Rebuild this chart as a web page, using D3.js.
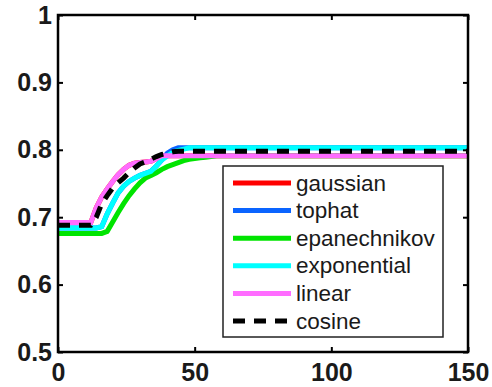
<!DOCTYPE html>
<html>
<head>
<meta charset="utf-8">
<script src="https://cdn.jsdelivr.net/npm/d3@7"></script>
<style>
  html, body { margin: 0; padding: 0; background: #fff; }
  svg { display: block; }
</style>
</head>
<body>
<svg id="chart" width="492" height="387"></svg>
<script>
// ---- data ----
const xs = [0, 12, 14, 16, 18, 20, 22, 24, 26, 28, 30, 32, 34, 36, 38, 40, 42, 44, 46, 48, 50, 52, 54, 56, 58, 150];

const gaussian     = [0.692,0.692,0.714,0.730,0.742,0.753,0.763,0.771,0.777,0.780,0.781,0.782,0.783,0.787,0.791,0.791,0.791,0.791,0.791,0.791,0.791,0.791,0.791,0.791,0.791,0.791];
const tophat       = [0.684,0.684,0.684,0.686,0.705,0.721,0.736,0.746,0.753,0.758,0.762,0.765,0.768,0.776,0.785,0.795,0.800,0.803,0.803,0.803,0.803,0.803,0.803,0.803,0.803,0.803];
const epanechnikov = [0.676,0.676,0.676,0.676,0.679,0.693,0.707,0.720,0.732,0.742,0.751,0.758,0.762,0.766,0.771,0.775,0.778,0.781,0.784,0.786,0.787,0.788,0.789,0.790,0.791,0.791];
const exponential  = [0.684,0.684,0.684,0.686,0.705,0.721,0.736,0.746,0.753,0.758,0.762,0.765,0.768,0.776,0.785,0.791,0.796,0.799,0.801,0.803,0.803,0.803,0.803,0.803,0.803,0.803];
const linear       = [0.692,0.692,0.714,0.730,0.742,0.753,0.763,0.771,0.777,0.780,0.781,0.782,0.783,0.787,0.791,0.791,0.791,0.791,0.791,0.791,0.791,0.791,0.791,0.791,0.791,0.791];
const cosine       = [0.688,0.688,0.700,0.720,0.732,0.743,0.751,0.758,0.766,0.773,0.779,0.782,0.786,0.790,0.793,0.795,0.797,0.798,0.798,0.798,0.798,0.798,0.798,0.798,0.798,0.798];

const seriesNames = ["gaussian", "tophat", "epanechnikov", "exponential", "linear", "cosine"];
const seriesValues = [gaussian, tophat, epanechnikov, exponential, linear, cosine];
const seriesColors = ["#ff0000", "#0a64ff", "#00e400", "#00ffff", "#ff6cff", "#000000"];

const xTickValues = [0, 50, 100, 150];
const xTickLabels = ["0", "50", "100", "150"];
const yTickValues = [0.5, 0.6, 0.7, 0.8, 0.9, 1.0];
const yTickLabels = ["0.5", "0.6", "0.7", "0.8", "0.9", "1"];

// ---- layout ----
const L = 58, R = 468, T = 15, B = 352;
const svg = d3.select("#chart");

const x = d3.scaleLinear().domain([0, 150]).range([L, R]);
const y = d3.scaleLinear().domain([0.5, 1]).range([B, T]);

const tickFont = "bold 25px 'Liberation Sans', Arial, sans-serif";

// lines
const lineGen = d3.line()
  .x(d => x(d[0]))
  .y(d => y(d[1]))
  .curve(d3.curveLinear);

const plot = svg.append("g");
seriesNames.forEach((name, i) => {
  const pts = xs.map((xv, j) => [xv, seriesValues[i][j]]);
  plot.append("path")
    .datum(pts)
    .attr("fill", "none")
    .attr("stroke", seriesColors[i])
    .attr("stroke-width", 5)
    .attr("stroke-linejoin", "miter")
    .attr("stroke-dasharray", name === "cosine" ? "12,9" : null)
    .attr("d", lineGen);
});

// axes (inward ticks)
function styleAxis(g) {
  g.select(".domain").remove();
  g.selectAll(".tick line").attr("stroke", "#000").attr("stroke-width", 2);
  g.selectAll(".tick text").style("font", tickFont).attr("fill", "#1a1a1a");
}

svg.append("g")
  .attr("transform", `translate(0,${B})`)
  .call(d3.axisBottom(x).tickValues(xTickValues)
    .tickFormat((d, i) => xTickLabels[i]).tickSize(-5).tickPadding(11))
  .call(styleAxis);

svg.append("g")
  .attr("transform", `translate(${L},0)`)
  .call(d3.axisLeft(y).tickValues(yTickValues)
    .tickFormat((d, i) => yTickLabels[i]).tickSize(-5).tickPadding(6))
  .call(styleAxis);

svg.append("g")
  .attr("transform", `translate(0,${T})`)
  .call(d3.axisTop(x).tickValues(xTickValues).tickFormat("").tickSize(-5))
  .call(styleAxis);

svg.append("g")
  .attr("transform", `translate(${R},0)`)
  .call(d3.axisRight(y).tickValues(yTickValues).tickFormat("").tickSize(-5))
  .call(styleAxis);

// frame
svg.append("rect")
  .attr("x", L).attr("y", T)
  .attr("width", R - L).attr("height", B - T)
  .attr("fill", "none")
  .attr("stroke", "#000")
  .attr("stroke-width", 2.5);

// legend
const lg = svg.append("g");
lg.append("rect")
  .attr("x", 223).attr("y", 166)
  .attr("width", 220).attr("height", 171)
  .attr("fill", "#fff")
  .attr("stroke", "#222")
  .attr("stroke-width", 1.5);

seriesNames.forEach((name, i) => {
  const cy = 183 + i * 27.6;
  lg.append("line")
    .attr("x1", 233).attr("x2", 291)
    .attr("y1", cy).attr("y2", cy)
    .attr("stroke", seriesColors[i])
    .attr("stroke-width", 5)
    .attr("stroke-dasharray", name === "cosine" ? "12,9" : null);
  lg.append("text")
    .attr("x", 296).attr("y", cy + 7.5)
    .style("font", "22.5px 'Liberation Sans', Arial, sans-serif")
    .attr("fill", "#1a1a1a")
    .text(name);
});
</script>
</body>
</html>
